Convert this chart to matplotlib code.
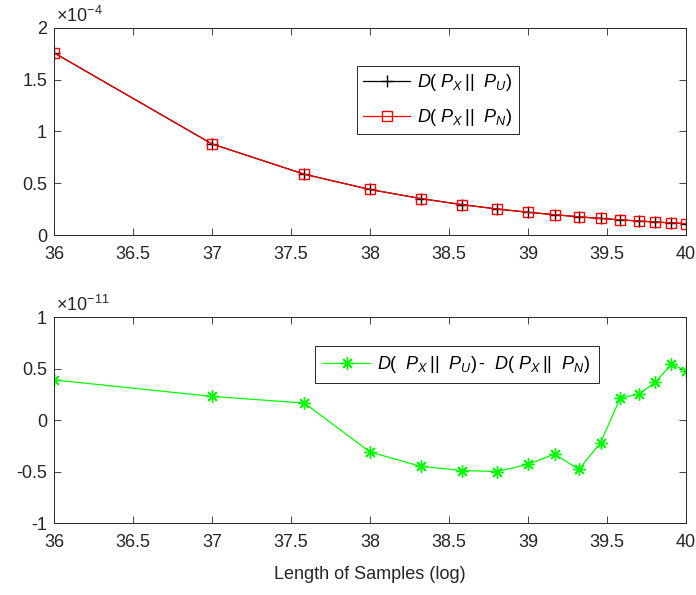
import matplotlib
matplotlib.use("Agg")
import matplotlib.pyplot as plt
from matplotlib.ticker import FuncFormatter

plt.rcParams['font.family'] = ['Liberation Sans', 'DejaVu Sans']
plt.rcParams['axes.unicode_minus'] = False
plt.rcParams['mathtext.fontset'] = 'custom'
plt.rcParams['mathtext.rm'] = 'Liberation Sans'
plt.rcParams['mathtext.it'] = 'Liberation Sans:italic'

x_log = [36, 37, 37.585, 38, 38.322, 38.585, 38.807, 39, 39.17, 39.322,
         39.459, 39.585, 39.70, 39.807, 39.907, 40]
d_pu = [1.76e-4, 0.88e-4, 0.587e-4, 0.44e-4, 0.352e-4, 0.293e-4, 0.251e-4,
        0.22e-4, 0.196e-4, 0.176e-4, 0.160e-4, 0.147e-4, 0.135e-4,
        0.126e-4, 0.117e-4, 0.11e-4]
d_pn = [1.76e-4, 0.88e-4, 0.587e-4, 0.44e-4, 0.352e-4, 0.293e-4, 0.251e-4,
        0.22e-4, 0.196e-4, 0.176e-4, 0.160e-4, 0.147e-4, 0.135e-4,
        0.126e-4, 0.117e-4, 0.11e-4]
diff = [0.39e-11, 0.23e-11, 0.165e-11, -0.31e-11, -0.45e-11, -0.49e-11,
        -0.50e-11, -0.43e-11, -0.33e-11, -0.48e-11, -0.22e-11, 0.216e-11,
        0.25e-11, 0.37e-11, 0.54e-11, 0.48e-11]

xticks = [36, 36.5, 37, 37.5, 38, 38.5, 39, 39.5, 40]
yticks_top = [0, 0.5e-4, 1e-4, 1.5e-4, 2e-4]
yticks_bot = [-1e-11, -0.5e-11, 0, 0.5e-11, 1e-11]

axcol = '#262626'
fs = 13

fig = plt.figure(figsize=(6.96, 5.95), dpi=100)
ax1 = fig.add_axes([0.0776, 0.605, 0.908, 0.348])
ax2 = fig.add_axes([0.0776, 0.121, 0.908, 0.346])

def style(ax, yticks, scale, exp):
    ax.set_xlim(36, 40)
    ax.set_xticks(xticks)
    ax.xaxis.set_major_formatter(FuncFormatter(lambda v, p: '%g' % v))
    ax.set_ylim(yticks[0], yticks[-1])
    ax.set_yticks(yticks)
    ax.yaxis.set_major_formatter(FuncFormatter(lambda v, p: '%g' % round(v / scale, 6)))
    ax.tick_params(direction='in', top=True, right=True, length=5, width=0.6,
                   colors=axcol, labelsize=fs)
    ax.tick_params(axis='x', pad=8)
    ax.tick_params(axis='y', pad=5)
    for s in ax.spines.values():
        s.set_color(axcol)
        s.set_linewidth(0.7)
    ax.annotate(r'$\times\mathrm{10}^{\mathrm{' + exp + '}}$', xy=(0, 1),
                xycoords='axes fraction', xytext=(1.5, 1.5),
                textcoords='offset points', fontsize=fs, color=axcol,
                ha='left', va='bottom')

lbl_u = r'$D(\ P_X\,||\ \ P_U)$'
lbl_n = r'$D(\ P_X\,||\ \ P_N)$'
lbl_d = r'$D(\ \ P_X\,||\ \ P_U)\,\text{-}\ \ D(\ P_X\,||\ \ P_N)$'

ax1.plot(x_log, d_pu, color='black', lw=0.9, marker='+', ms=9, mew=1.0,
         label=lbl_u)
ax1.plot(x_log, d_pn, color='#ff0000', lw=0.9, marker='s', ms=7.5, mew=1.0,
         mfc='none', label=lbl_n)
style(ax1, yticks_top, 1e-4, '-4')
leg1 = ax1.legend(loc='upper left', bbox_to_anchor=(0.479, 0.816), fontsize=fs,
                  frameon=True, fancybox=False, framealpha=1, edgecolor=axcol,
                  handlelength=2.6, borderpad=0.35, labelspacing=0.75,
                  handletextpad=0.4, borderaxespad=0)
leg1.get_frame().set_linewidth(0.7)

ax2.plot(x_log, diff, color='#00ff00', lw=0.9, marker=(8, 2, 0), ms=9,
         mew=1.0, label=lbl_d)
style(ax2, yticks_bot, 1e-11, '-11')
leg2 = ax2.legend(loc='upper left', bbox_to_anchor=(0.413, 0.859), fontsize=fs,
                  frameon=True, fancybox=False, framealpha=1, edgecolor=axcol,
                  handlelength=2.6, borderpad=0.45, handletextpad=0.4,
                  borderaxespad=0)
leg2.get_frame().set_linewidth(0.7)
ax2.set_xlabel('Length of Samples (log)', fontsize=fs, color=axcol, labelpad=11)

fig.savefig('out.png', dpi=100)
